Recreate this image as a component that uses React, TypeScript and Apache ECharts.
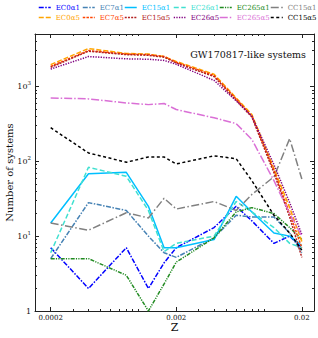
import React, { useEffect, useRef } from "react";
import * as echarts from "echarts";

// Metallicity grid
const Z = [0.0002, 0.0004, 0.0008, 0.0012, 0.0016, 0.002, 0.004, 0.006, 0.008, 0.012, 0.016, 0.02];

const seriesNames = [
  "EC0α1", "EC7α1", "EC15α1", "EC26α1", "EC265α1", "CC15α1",
  "EC0α5", "EC7α5", "EC15α5", "EC26α5", "EC265α5", "CC15α5",
];

const EC0a1 = [7, 2, 7, 2, 4.4, 7, 13, 25, 16, 8, 10, 7];
const EC7a1 = [5, 28, 22, 10, 6, 5.2, 9.5, 19, 18, 18, 11, 6];
const EC15a1 = [15, 68, 71, 25, 7, 7, 9, 34, 21, 11, 10, 7.5];
const EC26a1 = [6, 83, 63, 22, 6.2, 8, 10, 29, 21, 13, 8, 7];
const EC265a1 = [5, 5, 3, 1, 2.3, 4.5, 9.5, 21, 24, 20, 13, 9];
const CC15a1 = [15, 12, 20.5, 17.5, 32, 23, 29, 22, 36, 62, 200, 58];
const EC0a5 = [1950, 3200, 2750, 2700, 2500, 2150, 1450, 700, 420, 80, 24, 8.5];
const EC7a5 = [1850, 3000, 2700, 2650, 2500, 2100, 1400, 680, 400, 75, 20, 7];
const EC15a5 = [1800, 2950, 2650, 2600, 2450, 2050, 1350, 650, 390, 70, 18, 5.2];
const EC26a5 = [1700, 2500, 2330, 2300, 2220, 1970, 1200, 640, 400, 90, 28, 10.5];
const EC265a5 = [700, 680, 600, 570, 590, 490, 380, 318, 195, 55, 20, 10];
const CC15a5 = [280, 129, 97, 114, 114, 92, 118, 108, 55, 19, 11, 6.5];

const seriesValues = [EC0a1, EC7a1, EC15a1, EC26a1, EC265a1, CC15a1, EC0a5, EC7a5, EC15a5, EC26a5, EC265a5, CC15a5];

const xMajorTicks = [0.0002, 0.002, 0.02];
const xMinorTicks = [0.0003, 0.0004, 0.0005, 0.0006, 0.0007, 0.0008, 0.0009, 0.001, 0.003, 0.004, 0.005, 0.006, 0.007, 0.008, 0.009, 0.01];
const yMajorTicks = [1, 10, 100, 1000];
const yMinorTicks = [2, 3, 4, 5, 6, 7, 8, 9, 20, 30, 40, 50, 60, 70, 80, 90, 200, 300, 400, 500, 600, 700, 800, 900, 2000, 3000, 4000, 5000];

// styles
const colors = [
  "#0000ff", "#4682b4", "#00bfff", "#40e0d0", "#228b22", "#808080",
  "#ffa500", "#ff4500", "#b22222", "#800080", "#da70d6", "#000000",
];
const dashes: any[] = [
  [5, 1.5, 1.5, 1.5], [5, 1.5, 1.5, 1.5], "solid", [5, 2.5], [4, 1.2, 1.2, 1.2, 1.2, 1.2], [8, 2.5, 1.5, 2.5],
  [5, 2], [2.5, 1.2], [2, 1.2], [1.3, 1.3], [8, 2, 1.5, 2], [3, 2.5],
];
const legendLefts = [38, 82, 124, 173, 219, 270];
const FONT = "DejaVu Serif";

export default function App() {
  const ref = useRef<HTMLDivElement>(null);
  useEffect(() => {
    if (!ref.current) return;
    const chart = echarts.init(ref.current, null, { renderer: "svg" });
    const frame = { show: true, lineStyle: { color: "#222", width: 1 } };
    const xBase = { type: "log", logBase: 10, min: 0.00015, max: 0.025, splitLine: { show: false }, gridIndex: 0 };
    const yBase = { type: "log", logBase: 10, min: 1, max: 5000, splitLine: { show: false }, gridIndex: 0 };
    const series: any[] = seriesNames.map((n, i) => ({
      name: n,
      type: "line",
      xAxisIndex: 0,
      yAxisIndex: 0,
      symbol: "none",
      showSymbol: false,
      data: Z.map((z, k) => [z, seriesValues[i][k]]),
      lineStyle: { color: colors[i], width: 1.5, type: dashes[i] },
      itemStyle: { color: colors[i] },
      z: 3,
    }));
    const legends = seriesNames.map((n, i) => ({
      data: [{ name: n, textStyle: { color: colors[i] } }],
      left: legendLefts[i % 6],
      top: i < 6 ? 4 : 14,
      itemWidth: 12,
      itemHeight: 6,
      padding: 0,
      itemStyle: { opacity: 0 },
      lineStyle: { width: 1.5 },
      textStyle: { fontFamily: FONT, fontSize: 7, color: colors[i] },
      selectedMode: false,
    }));
    chart.setOption({
      animation: false,
      backgroundColor: "#fff",
      grid: { left: 35, right: 4, top: 34, bottom: 27, outerBoundsMode: "none" },
      title: {
        text: "GW170817-like systems",
        right: 7,
        top: 44,
        textStyle: { fontFamily: FONT, fontSize: 9.5, fontWeight: "normal", color: "#111" },
      },
      legend: legends,
      xAxis: [
        {
          ...xBase,
          position: "bottom",
          axisLine: frame,
          axisTick: { show: true, inside: true, length: 4, customValues: xMajorTicks, lineStyle: { color: "#222" } },
          axisLabel: {
            customValues: xMajorTicks,
            fontFamily: FONT,
            fontSize: 7,
            color: "#111",
            margin: 3,
            formatter: (v: number) => String(+v.toPrecision(3)),
          },
          name: "Z",
          nameLocation: "middle",
          nameGap: 11,
          nameMoveOverlap: false,
          nameTextStyle: { fontFamily: FONT, fontSize: 11, color: "#111" },
        },
        {
          ...xBase,
          position: "bottom",
          axisLine: { show: false },
          axisTick: { show: true, inside: true, length: 2, customValues: xMinorTicks, lineStyle: { color: "#222" } },
          axisLabel: { show: false },
        },
        {
          ...xBase,
          position: "top",
          axisLine: frame,
          axisTick: { show: true, inside: true, length: 4, customValues: xMajorTicks, lineStyle: { color: "#222" } },
          axisLabel: { show: false },
        },
        {
          ...xBase,
          position: "top",
          axisLine: { show: false },
          axisTick: { show: true, inside: true, length: 2, customValues: xMinorTicks, lineStyle: { color: "#222" } },
          axisLabel: { show: false },
        },
      ],
      yAxis: [
        {
          ...yBase,
          position: "left",
          axisLine: frame,
          axisTick: { show: true, inside: true, length: 4, customValues: yMajorTicks, lineStyle: { color: "#222" } },
          axisLabel: {
            customValues: yMajorTicks,
            fontFamily: FONT,
            fontSize: 8,
            color: "#111",
            margin: 4,
            formatter: (v: number) => {
              const e = Math.round(Math.log10(v));
              if (e === 0) return "1";
              return "{b|10}{s|" + e + "}";
            },
            rich: {
              b: { fontFamily: FONT, fontSize: 8, color: "#111" },
              s: { fontFamily: FONT, fontSize: 5.5, color: "#111", verticalAlign: "bottom", padding: [0, 0, 6, 0] },
            },
          },
          name: "Number of systems",
          nameLocation: "middle",
          nameGap: 21,
          nameMoveOverlap: false,
          nameTextStyle: { fontFamily: FONT, fontSize: 10, color: "#111" },
        },
        {
          ...yBase,
          position: "left",
          axisLine: { show: false },
          axisTick: { show: true, inside: true, length: 2, customValues: yMinorTicks, lineStyle: { color: "#222" } },
          axisLabel: { show: false },
        },
        {
          ...yBase,
          position: "right",
          axisLine: frame,
          axisTick: { show: true, inside: true, length: 4, customValues: yMajorTicks, lineStyle: { color: "#222" } },
          axisLabel: { show: false },
        },
        {
          ...yBase,
          position: "right",
          axisLine: { show: false },
          axisTick: { show: true, inside: true, length: 2, customValues: yMinorTicks, lineStyle: { color: "#222" } },
          axisLabel: { show: false },
        },
      ],
      series,
    });
    return () => chart.dispose();
  }, []);
  return (
    <div
      ref={ref}
      style={{ position: "fixed", left: 0, top: 0, width: 318, height: 338, background: "#fff" }}
    />
  );
}
